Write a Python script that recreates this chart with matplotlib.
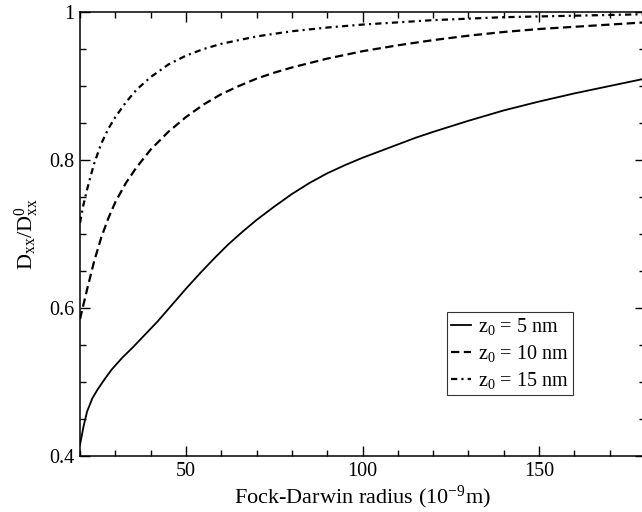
import matplotlib
matplotlib.use("Agg")
import matplotlib.pyplot as plt
from matplotlib.ticker import MultipleLocator, FixedLocator, FixedFormatter

plt.rcParams['font.family'] = ['Liberation Serif', 'DejaVu Serif']
plt.rcParams['mathtext.fontset'] = 'custom'
plt.rcParams['mathtext.rm'] = 'Liberation Serif'
plt.rcParams['mathtext.it'] = 'Liberation Serif:italic'
plt.rcParams['lines.scale_dashes'] = False

# z0 = 5 nm
x5 = [20, 21, 22, 23.5, 25, 27, 29, 32, 35, 38, 42, 46, 50, 54, 58, 62, 66, 70, 75,
      80, 85, 90, 95, 100, 105, 110, 115, 120, 130, 140, 150, 160, 170, 180]
y5 = [0.415, 0.440, 0.460, 0.478, 0.490, 0.504, 0.517, 0.533, 0.547, 0.562, 0.582,
      0.604, 0.626, 0.647, 0.667, 0.686, 0.703, 0.719, 0.737, 0.754, 0.769, 0.782,
      0.793, 0.803, 0.812, 0.821, 0.830, 0.838, 0.853, 0.867, 0.879, 0.890, 0.900, 0.910]

# z0 = 10 nm
x10 = [20, 22, 24, 26, 28, 30, 33, 36, 40, 45, 50, 55, 60, 65, 70, 75, 80, 90, 100,
       110, 120, 130, 140, 150, 160, 170, 180]
y10 = [0.585, 0.625, 0.663, 0.695, 0.721, 0.743, 0.769, 0.790, 0.814, 0.838, 0.858,
       0.875, 0.889, 0.900, 0.910, 0.918, 0.925, 0.937, 0.947, 0.955, 0.962, 0.968,
       0.973, 0.977, 0.980, 0.983, 0.986]

# z0 = 15 nm
x15 = [20, 21, 22, 23, 24, 26, 28, 30, 33, 36, 40, 45, 50, 55, 60, 70, 80, 90, 100,
       120, 140, 160, 180]
y15 = [0.715, 0.740, 0.760, 0.778, 0.795, 0.822, 0.842, 0.858, 0.878, 0.895, 0.912,
       0.929, 0.941, 0.950, 0.957, 0.967, 0.974, 0.979, 0.983, 0.989, 0.993, 0.995, 0.997]

labels = [r'z$_{\mathrm{0}}$ = 5 nm', r'z$_{\mathrm{0}}$ = 10 nm', r'z$_{\mathrm{0}}$ = 15 nm']
yticks = [0.4, 0.6, 0.8, 1.0]
yticklabels = ['0.4', '0.6', '0.8', '1']
xticks = [50, 100, 150]

fig = plt.figure(figsize=(6.42, 5.12), dpi=100)
ax = fig.add_axes([80/642, 56/512, 565/642, 444/512])

ax.plot(x5, y5, color='black', lw=1.3, label=labels[0])
ax.plot(x10, y10, color='black', lw=1.6, dashes=(6, 3.2), label=labels[1])
ax.plot(x15, y15, color='black', lw=1.6, dashes=(4.5, 3, 1.5, 3), label=labels[2])

ax.set_xlim(20, 180)
ax.set_ylim(0.4, 1.0)
ax.xaxis.set_major_locator(FixedLocator(xticks))
ax.xaxis.set_minor_locator(MultipleLocator(10))
ax.yaxis.set_major_locator(FixedLocator(yticks))
ax.yaxis.set_major_formatter(FixedFormatter(yticklabels))
ax.yaxis.set_minor_locator(MultipleLocator(0.05))
ax.tick_params(which='both', direction='in', top=True, right=True, labelsize=14.5, pad=4)
ax.tick_params(which='major', length=7.5, width=1.0)
ax.tick_params(which='minor', length=4, width=1.0)
for s in ax.spines.values():
    s.set_linewidth(1.1)

ax.set_xlabel(r'Fock-Darwin radius (10$^{\mathrm{-9}}$m)', fontsize=16, labelpad=2)
ax.set_ylabel(r'D$_{\mathrm{xx}}$/D$^{\mathrm{0}}_{\mathrm{xx}}$', fontsize=16, labelpad=6)

leg = ax.legend(loc='upper left', bbox_to_anchor=((447-80)/565, (456-312)/444),
                fontsize=14.5, frameon=True, fancybox=False, edgecolor='black',
                handlelength=1.0, handletextpad=0.35, borderpad=0.2, labelspacing=0.3,
                borderaxespad=0)
leg.get_frame().set_linewidth(0.8)

fig.savefig('out.png', dpi=100)
